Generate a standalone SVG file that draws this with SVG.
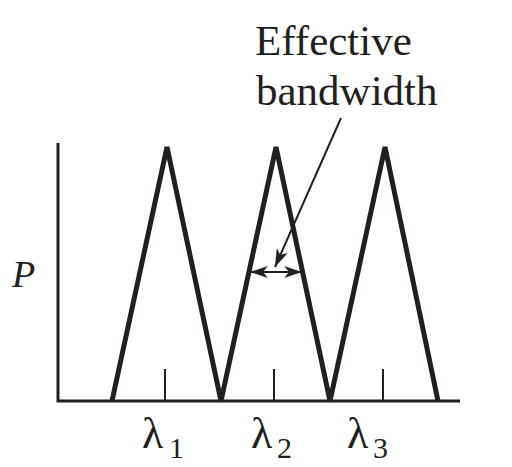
<svg xmlns="http://www.w3.org/2000/svg" width="512" height="467" viewBox="0 0 512 467">
<defs>
<marker id="ah" viewBox="0 0 18 12" refX="18" refY="6" markerWidth="18" markerHeight="12" markerUnits="userSpaceOnUse" orient="auto-start-reverse">
<path d="M0,0 L18,6 L0,12 L5,6 Z" fill="#231f20"/>
</marker>
</defs>
<style>
.axis{stroke:#231f20;stroke-width:3;fill:none}
.tri{stroke:#231f20;stroke-width:5;fill:none;stroke-linejoin:miter}
.tick{stroke:#231f20;stroke-width:2}
.conn{stroke:#231f20;stroke-width:2;fill:none}
.t{font-family:"Liberation Serif",serif;fill:#231f20}
</style>
<rect width="512" height="467" fill="#fff"/>
<g id="axes">
<path class="axis" d="M58,143 V401 H460"/>
</g>
<g id="peaks">
<path class="tri" d="M112,401 L167,147 L221,401 L276,147 L330,401 L385,147 L438,401"/>
</g>
<g id="ticks">
<line class="tick" x1="165" y1="369" x2="165" y2="400"/>
<line class="tick" x1="274" y1="369" x2="274" y2="400"/>
<line class="tick" x1="383" y1="369" x2="383" y2="400"/>
</g>
<g id="connectors">
<line class="conn" x1="250" y1="272" x2="302" y2="272" marker-start="url(#ah)" marker-end="url(#ah)"/>
<line class="conn" x1="341" y1="118" x2="275" y2="267" marker-end="url(#ah)"/>
</g>
<g id="label-bandwidth">
<text class="t" x="255" y="55" font-size="43">Effective</text>
<text class="t" x="256" y="105" font-size="43">bandwidth</text>
</g>
<g id="label-P">
<text class="t" x="12" y="287" font-size="38" font-style="italic">P</text>
</g>
<g id="labels-lambda">
<text class="t" x="142" y="448" font-size="44">λ</text>
<text class="t" x="169" y="458" font-size="30">1</text>
<text class="t" x="251" y="448" font-size="44">λ</text>
<text class="t" x="277" y="458" font-size="30">2</text>
<text class="t" x="347" y="448" font-size="44">λ</text>
<text class="t" x="373" y="458" font-size="30">3</text>
</g>
</svg>
